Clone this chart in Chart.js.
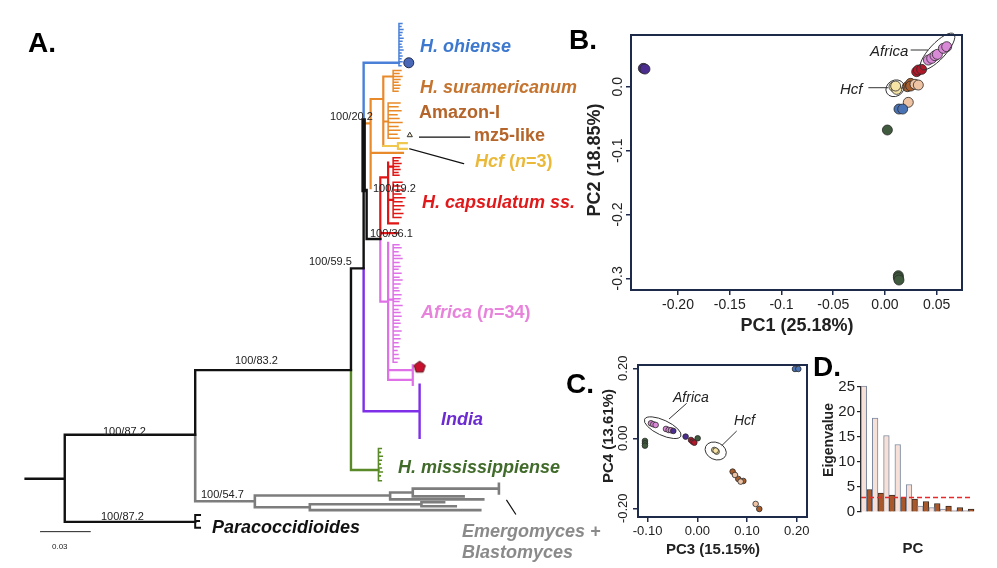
<!DOCTYPE html>
<html>
<head>
<meta charset="utf-8">
<script src="https://cdn.jsdelivr.net/npm/chart.js@4.4.1/dist/chart.umd.min.js"></script>
<style>
  body { margin: 0; background: #fff; }
  #fig { position: relative; width: 997px; height: 568px; overflow: hidden; font-family: "Liberation Sans", Arial, sans-serif; }
  #fig canvas { position: absolute; }
  .t { position: absolute; white-space: nowrap; line-height: 1; transform: translateY(-50%); font-weight: bold; }
  .c { position: absolute; white-space: nowrap; line-height: 1; transform: translate(-50%, -50%); font-weight: bold; color: #222; }
  .r { position: absolute; white-space: nowrap; line-height: 1; transform: translate(-50%, -50%) rotate(-90deg); font-weight: bold; color: #222; }
  .bs { position: absolute; white-space: nowrap; line-height: 1; transform: translateY(-50%); font-size: 11px; color: #222; }
  .i { font-style: italic; }
</style>
</head>
<body>
<div id="fig">
  <canvas id="cA" width="600" height="568" style="left:0;top:0"></canvas>
  <canvas id="cB" width="390" height="320" style="left:590px;top:25px"></canvas>
  <canvas id="cC" width="220" height="200" style="left:595px;top:355px"></canvas>
  <canvas id="cD" width="182" height="190" style="left:815px;top:372px"></canvas>

  <!-- panel letters -->
  <div class="t" style="left:28px;top:43px;font-size:28px">A.</div>
  <div class="t" style="left:569px;top:40px;font-size:28px">B.</div>
  <div class="t" style="left:566px;top:384px;font-size:28px">C.</div>
  <div class="t" style="left:813px;top:367px;font-size:28px">D.</div>

  <!-- tree labels -->
  <div class="t i" style="left:420px;top:46px;font-size:18px;color:#3d78cf">H. ohiense</div>
  <div class="t i" style="left:420px;top:87px;font-size:18px;color:#c4742f">H. suramericanum</div>
  <div class="t" style="left:419px;top:112px;font-size:18px;color:#b5652a">Amazon-I</div>
  <div class="t" style="left:474px;top:135px;font-size:18px;color:#b5652a">mz5-like</div>
  <div class="t" style="left:475px;top:161px;font-size:18px;color:#eab93a"><span class="i">Hcf</span> (<span class="i">n</span>=3)</div>
  <div class="t i" style="left:422px;top:202px;font-size:18px;color:#e0191b">H. capsulatum ss.</div>
  <div class="t" style="left:421px;top:312px;font-size:18px;color:#e883dc"><span class="i">Africa</span> (<span class="i">n</span>=34)</div>
  <div class="t i" style="left:441px;top:419px;font-size:18px;color:#6c2bd0">India</div>
  <div class="t i" style="left:398px;top:467px;font-size:18px;color:#416b2a">H. mississippiense</div>
  <div class="t i" style="left:212px;top:527px;font-size:18px;color:#111">Paracoccidioides</div>
  <div class="t i" style="left:462px;top:531px;font-size:18px;color:#8a8a8a">Emergomyces +</div>
  <div class="t i" style="left:462px;top:552px;font-size:18px;color:#8a8a8a">Blastomyces</div>

  <!-- support values -->
  <div class="bs" style="left:330px;top:116px">100/20.2</div>
  <div class="bs" style="left:373px;top:188px">100/19.2</div>
  <div class="bs" style="left:370px;top:233px">100/36.1</div>
  <div class="bs" style="left:309px;top:261px">100/59.5</div>
  <div class="bs" style="left:235px;top:360px">100/83.2</div>
  <div class="bs" style="left:103px;top:431px">100/87.2</div>
  <div class="bs" style="left:101px;top:516px">100/87.2</div>
  <div class="bs" style="left:201px;top:494px">100/54.7</div>
  <div class="bs" style="left:52px;top:547px;font-size:8px">0.03</div>

  <!-- PCA labels -->
  <div class="c" style="left:797px;top:325px;font-size:18px">PC1 (25.18%)</div>
  <div class="r" style="left:594px;top:160px;font-size:18px">PC2 (18.85%)</div>
  <div class="t i" style="left:870px;top:50px;font-size:15px;font-weight:normal;color:#222">Africa</div>
  <div class="t i" style="left:840px;top:88px;font-size:15px;font-weight:normal;color:#222">Hcf</div>

  <div class="c" style="left:713px;top:548px;font-size:15px">PC3 (15.15%)</div>
  <div class="r" style="left:607px;top:436px;font-size:15px">PC4 (13.61%)</div>
  <div class="t i" style="left:673px;top:397px;font-size:14px;font-weight:normal;color:#222">Africa</div>
  <div class="t i" style="left:734px;top:420px;font-size:14px;font-weight:normal;color:#222">Hcf</div>

  <div class="r" style="left:828px;top:440px;font-size:14px">Eigenvalue</div>
  <div class="c" style="left:913px;top:547px;font-size:15px">PC</div>
</div>

<script>
// ---------------- data ----------------
// Panel A: tree branches, x = branch length (subs/site), y = tip row
const treeBlack = [
  [0, 483, 0.0235, 483],
  [0.0235, 438, 0.0235, 527],
  [0.0235, 438, 0.1018, 438],
  [0.0235, 527, 0.1018, 527],
  [0.1018, 372, 0.1018, 438],
  [0.1018, 372, 0.1953, 372],
  [0.1953, 268, 0.1953, 372],
  [0.1953, 268, 0.2029, 268],
  [0.2029, 188, 0.2029, 268],
  [0.2029, 188, 0.2047, 188],
  [0.2047, 188, 0.2047, 238],
  [0.2047, 238, 0.2129, 238]
];
const treeBlackBold = [[0.2029, 117, 0.2029, 188]];
const treeBlue = [[0.2029, 58, 0.2029, 117], [0.2029, 58, 0.2241, 58]];
const treeOrange = [
  [0.2029, 120, 0.2071, 120],
  [0.2071, 95, 0.2071, 186],
  [0.2071, 95, 0.2147, 95],
  [0.2147, 72, 0.2147, 143],
  [0.2147, 72, 0.2206, 72],
  [0.2147, 118, 0.2176, 118],
  [0.2071, 150, 0.2265, 150]
];
const treeHcf = [
  [0.2147, 143, 0.2235, 143],
  [0.2235, 140, 0.2235, 146],
  [0.2235, 140, 0.2288, 140],
  [0.2235, 146, 0.2288, 146]
];
const treeRed = [
  [0.2129, 175, 0.2129, 238],
  [0.2129, 175, 0.2176, 175],
  [0.2176, 160, 0.2176, 222],
  [0.2176, 164, 0.2206, 164],
  [0.2176, 198, 0.2206, 198],
  [0.2176, 222, 0.2235, 222],
  [0.2129, 232, 0.2235, 232]
];
const treePink = [
  [0.2129, 238, 0.2129, 302],
  [0.2129, 302, 0.2176, 302],
  [0.2176, 242, 0.2176, 382],
  [0.2176, 300, 0.2206, 300],
  [0.2176, 372, 0.2324, 372],
  [0.2176, 382, 0.2324, 382],
  [0.2324, 367, 0.2324, 377],
  [0.2324, 378, 0.2324, 387]
];
const treePurple = [[0.2029, 268, 0.2029, 414], [0.2029, 414, 0.2365, 414], [0.2365, 387, 0.2365, 441]];
const treeGreen = [[0.1953, 372, 0.1953, 474], [0.1953, 474, 0.2118, 474]];
const treeGray = [
  [0.1018, 438, 0.1018, 506],
  [0.1018, 506, 0.1376, 506],
  [0.1376, 500, 0.1376, 512],
  [0.1376, 500, 0.2188, 500],
  [0.2188, 497, 0.2188, 504],
  [0.2188, 497, 0.2324, 497],
  [0.2324, 493, 0.2324, 501],
  [0.2324, 493, 0.2841, 493],
  [0.2841, 488, 0.2841, 498],
  [0.2324, 501, 0.2629, 501],
  [0.2188, 504, 0.2747, 504],
  [0.1376, 512, 0.1706, 512],
  [0.1706, 509, 0.1706, 515],
  [0.1706, 509, 0.2376, 509],
  [0.2376, 507, 0.2376, 511],
  [0.2376, 507, 0.2512, 507],
  [0.2376, 511, 0.2582, 511],
  [0.1706, 515, 0.2729, 515]
];
// collapsed tip groups: spine x, tip rows and the branch end of each tip
const combBlue = { x: 0.2241, rows: [18, 21, 24, 27, 30, 33, 36, 39, 42, 45, 48, 51, 54, 57, 61],
  tips: [0.2259, 0.2253, 0.2265, 0.2259, 0.2253, 0.2265, 0.2259, 0.2253, 0.2259, 0.2265, 0.2253, 0.2259, 0.2253, 0.2259, 0.2253] };
const combOrange1 = { x: 0.2206, rows: [66, 69, 72, 75, 78, 81, 84, 87],
  tips: [0.2253, 0.2241, 0.2259, 0.2247, 0.2235, 0.2247, 0.2241, 0.2235] };
const combOrange2 = { x: 0.2176, rows: [99, 103, 107, 111, 115, 119, 123, 127, 131, 135],
  tips: [0.2247, 0.2235, 0.2253, 0.2229, 0.2241, 0.2259, 0.2235, 0.2247, 0.2229, 0.2241] };
const combRed1 = { x: 0.2206, rows: [155, 158, 161, 164, 167, 170, 173],
  tips: [0.2247, 0.2235, 0.2253, 0.2241, 0.2247, 0.2235, 0.2241] };
const combRed2 = { x: 0.2206, rows: [180, 184, 188, 192, 196, 200, 204, 208, 212, 216],
  tips: [0.2259, 0.2247, 0.2270, 0.2253, 0.2276, 0.2259, 0.2270, 0.2247, 0.2264, 0.2253] };
const combPink = { x: 0.2206, rows: [244, 247, 251, 255, 258, 262, 266, 269, 273, 277, 280, 284, 288, 291, 295, 299, 302, 306, 310, 313, 317, 321, 324, 328, 332, 336, 340, 344, 348, 352, 356, 360, 364],
  tips: [0.2241, 0.2253, 0.2235, 0.2247, 0.2259, 0.2241, 0.2247, 0.2235, 0.2253, 0.2241, 0.2259, 0.2247, 0.2235, 0.2241, 0.2253, 0.2247, 0.2241, 0.2259, 0.2235, 0.2247, 0.2253, 0.2241, 0.2247, 0.2235, 0.2253, 0.2241, 0.2247, 0.2235, 0.2241, 0.2229, 0.2235, 0.2241, 0.2229] };
const combGreen = { x: 0.2118, rows: [452, 456, 460, 464, 468, 472, 476, 480, 485],
  tips: [0.2135, 0.2129, 0.2141, 0.2135, 0.2129, 0.2135, 0.2141, 0.2129, 0.2135] };
const combParaco = { x: 0.1018, rows: [520, 526, 533], tips: [0.1047, 0.1041, 0.1047] };
const leaders = [[0.2365, 134, 0.2665, 134], [0.2306, 146, 0.2629, 161], [0.2888, 505, 0.2941, 519]];
const scaleBar = [[0.0088, 537, 0.0388, 537]];
const markOhiense = [{ x: 0.2300, y: 58 }];
const markMz5 = [{ x: 0.2306, y: 132 }];
const markAfrica = [{ x: 0.2365, y: 369 }];

// Panels B and C: PCA scores per group
const groups = ['India', 'H. mississippiense', 'H. ohiense', 'Amazon-I', 'H. suramericanum', 'Hcf', 'H. capsulatum ss.', 'Africa'];
const pc1 = [
  [-0.2335, -0.2319],
  [0.0129, 0.0129, 0.0135, 0.0023],
  [0.0135, 0.0171],
  [0.0225, 0.0290, 0.0322],
  [0.0216, 0.0248, 0.0248],
  [0.0087, 0.0113, 0.0103],
  [0.0306, 0.0322, 0.0354],
  [0.0419, 0.0451, 0.0483, 0.0506, 0.0564, 0.0596]
];
const pc2 = [
  [0.0287, 0.0276],
  [-0.2958, -0.2989, -0.3026, -0.0678],
  [-0.035, -0.035],
  [-0.0245, 0.0037, 0.0026],
  [0.0, 0.0052, 0.001],
  [0.0, -0.0042, 0.001],
  [0.0235, 0.0261, 0.0271],
  [0.0417, 0.0443, 0.0485, 0.0506, 0.060, 0.0626]
];
const pc3 = [
  [-0.0483, -0.0235],
  [-0.1053, -0.1053, -0.1053, 0.0007],
  [0.1965, 0.2032],
  [0.0758, 0.0872, 0.1174],
  [0.0711, 0.0825, 0.0926, 0.1247],
  [0.0342, 0.0389, 0.0369],
  [-0.0127, -0.0094, -0.006],
  [-0.0932, -0.0885, -0.0838, -0.063, -0.0577, -0.053]
];
const pc4 = [
  [0.021, 0.0048],
  [-0.0076, -0.0143, -0.021, 0.0],
  [0.1981, 0.1981],
  [-0.1048, -0.1238, -0.1876],
  [-0.0952, -0.1162, -0.1219, -0.2019],
  [-0.0333, -0.0381, -0.0352],
  [-0.0048, -0.0095, -0.0124],
  [0.0429, 0.040, 0.0381, 0.0267, 0.0238, 0.0229]
];
const bXTicks = [-0.20, -0.15, -0.1, -0.05, 0.00, 0.05];
const bXLabels = ['-0.20', '-0.15', '-0.1', '-0.05', '0.00', '0.05'];
const bYTicks = [0.0, -0.1, -0.2, -0.3];
const bYLabels = ['0.0', '-0.1', '-0.2', '-0.3'];
const cXTicks = [-0.10, 0.00, 0.10, 0.20];
const cXLabels = ['-0.10', '0.00', '0.10', '0.20'];
const cYTicks = [0.20, 0.00, -0.20];
const cYLabels = ['0.20', '0.00', '-0.20'];

// Panel D: eigenvalues
const pcNames = ['PC1', 'PC2', 'PC3', 'PC4', 'PC5', 'PC6', 'PC7', 'PC8', 'PC9', 'PC10'];
const eigenObserved = [25.2, 18.8, 15.3, 13.5, 5.5, 1.2, 0.9, 0.6, 0.4, 0.3];
const eigenNull = [4.5, 3.8, 3.4, 2.9, 2.6, 2.1, 1.7, 1.2, 0.9, 0.6];
const eigenCutoff = 2.9;

// ---------------- styles ----------------
const FONT = "'Liberation Sans', Arial, sans-serif";
const groupFill = ['#4b2d8f', '#3f5a3d', '#4a73b5', '#eec3a3', '#a85e2c', '#f6e3a6', '#b3182a', '#d98ad6'];
const frameColor = '#1e2a4a';

// ---------------- helpers ----------------
function combSegs(c) {
  const segs = [[c.x, Math.min(...c.rows), c.x, Math.max(...c.rows)]];
  c.rows.forEach((r, i) => segs.push([c.x, r, c.tips[i], r]));
  return segs;
}
function lineSet(segs, color, width) {
  const data = [];
  segs.forEach(s => data.push({ x: s[0], y: s[1] }, { x: s[2], y: s[3] }, { x: null, y: null }));
  return { data, showLine: true, spanGaps: false, borderColor: color, borderWidth: width,
           pointRadius: 0, pointHoverRadius: 0, borderCapStyle: 'square', fill: false };
}
function frame() {
  return { id: 'frame', afterDraw(chart) {
    const { left, top, right, bottom } = chart.chartArea, ctx = chart.ctx;
    ctx.save(); ctx.strokeStyle = frameColor; ctx.lineWidth = 2;
    ctx.strokeRect(left, top, right - left, bottom - top); ctx.restore();
  } };
}
function rotYLabels(values, labels, size, gap) {
  return { id: 'rotY', afterDraw(chart) {
    const ctx = chart.ctx, sy = chart.scales.y, x0 = chart.chartArea.left - gap;
    ctx.save(); ctx.fillStyle = '#222'; ctx.font = size + 'px ' + FONT;
    ctx.textAlign = 'center'; ctx.textBaseline = 'middle';
    values.forEach((v, i) => {
      ctx.save(); ctx.translate(x0, sy.getPixelForValue(v)); ctx.rotate(-Math.PI / 2);
      ctx.fillText(labels[i], 0, 0); ctx.restore();
    });
    ctx.restore();
  } };
}
function shapes(list) {
  return { id: 'shapes', afterDatasetsDraw(chart) {
    const ctx = chart.ctx, sx = chart.scales.x, sy = chart.scales.y;
    ctx.save(); ctx.strokeStyle = '#333'; ctx.lineWidth = 1;
    list.forEach(s => {
      ctx.beginPath();
      if (s.type === 'ellipse') {
        ctx.ellipse(sx.getPixelForValue(s.x), sy.getPixelForValue(s.y), s.rx, s.ry, s.angle * Math.PI / 180, 0, 2 * Math.PI);
      } else {
        ctx.moveTo(sx.getPixelForValue(s.x1), sy.getPixelForValue(s.y1));
        ctx.lineTo(sx.getPixelForValue(s.x2), sy.getPixelForValue(s.y2));
      }
      ctx.stroke();
    });
    ctx.restore();
  } };
}
function pcaSets(xs, ys, radius) {
  return groups.map((g, i) => ({
    label: g,
    data: xs[i].map((x, j) => ({ x, y: ys[i][j] })),
    backgroundColor: groupFill[i], borderColor: '#2a2a2a', borderWidth: 0.8,
    pointRadius: radius, pointHoverRadius: radius
  }));
}
function pcaScale(min, max, ticks, labels, size, fitKey, fitVal, showLabels) {
  return {
    type: 'linear', min, max,
    afterBuildTicks: ax => { ax.ticks = ticks.map(v => ({ value: v })); },
    afterFit: ax => { ax[fitKey] = fitVal; },
    ticks: { display: showLabels, autoSkip: false, maxRotation: 0, padding: 2, color: '#222',
             font: { size, family: FONT }, callback: (v, i) => labels[i] },
    grid: { drawOnChartArea: false, drawTicks: true, tickLength: 5, color: frameColor, lineWidth: 1.5 },
    border: { display: false }
  };
}

// pentagon marker
const pent = document.createElement('canvas');
pent.width = pent.height = 14;
(function () {
  const p = pent.getContext('2d');
  p.beginPath();
  for (let i = 0; i < 5; i++) {
    const a = -Math.PI / 2 + i * 2 * Math.PI / 5;
    p.lineTo(7 + 6 * Math.cos(a), 7 + 6 * Math.sin(a));
  }
  p.closePath(); p.fillStyle = '#c8102e'; p.fill();
  p.strokeStyle = '#5a0a14'; p.lineWidth = 1; p.stroke();
})();

// ---------------- panel A: tree ----------------
const treeSets = [
  lineSet(treeGray, '#7d7d7d', 2.6),
  lineSet(treeGreen, '#5a8a28', 2.4),
  lineSet(combSegs(combGreen), '#5a8a28', 1.6),
  lineSet(treePurple, '#7f2fe8', 2.4),
  lineSet(treePink, '#e070e8', 2.2),
  lineSet(combSegs(combPink), '#e070e8', 1.5),
  lineSet(treeRed, '#e01515', 2.2),
  lineSet(combSegs(combRed1), '#e01515', 1.5),
  lineSet(combSegs(combRed2), '#e01515', 1.5),
  lineSet(treeOrange, '#e88a2a', 2.2),
  lineSet(combSegs(combOrange1), '#e88a2a', 1.5),
  lineSet(combSegs(combOrange2), '#e88a2a', 1.5),
  lineSet(treeHcf, '#f0c850', 2.2),
  lineSet(treeBlue, '#4a80d8', 2.4),
  lineSet(combSegs(combBlue), '#4a80d8', 1.5),
  lineSet(treeBlack, '#111', 2.4),
  lineSet(treeBlackBold, '#111', 4.5),
  lineSet(combSegs(combParaco), '#111', 2),
  lineSet(leaders, '#111', 1.2),
  lineSet(scaleBar, '#222', 1),
  { data: markOhiense, pointRadius: 5, backgroundColor: '#4a68b8', borderColor: '#1e2a50', borderWidth: 1 },
  { data: markMz5, pointStyle: 'triangle', pointRadius: 3, backgroundColor: '#f8f0d0', borderColor: '#333', borderWidth: 1 },
  { data: markAfrica, pointStyle: pent }
].reverse();

new Chart(document.getElementById('cA'), {
  type: 'scatter',
  data: { datasets: treeSets },
  options: {
    responsive: false, animation: false, events: [],
    layout: { padding: 0 },
    plugins: { legend: { display: false }, tooltip: { enabled: false } },
    scales: {
      x: { type: 'linear', display: false, min: -20 / 1700, max: 580 / 1700 },
      y: { type: 'linear', display: false, min: 0, max: 568, reverse: true }
    }
  }
});

// ---------------- panel B: PC1 vs PC2 ----------------
new Chart(document.getElementById('cB'), {
  type: 'scatter',
  data: { datasets: pcaSets(pc1, pc2, 5) },
  options: {
    responsive: false, animation: false, events: [],
    layout: { padding: { left: 0, top: 10, right: 18, bottom: 0 } },
    plugins: { legend: { display: false }, tooltip: { enabled: false } },
    scales: {
      x: pcaScale(-0.2454, 0.0744, bXTicks, bXLabels, 14, 'height', 55, true),
      y: pcaScale(-0.3182, 0.0809, bYTicks, bYLabels, 14, 'width', 41, false)
    }
  },
  plugins: [frame(), rotYLabels(bYTicks, bYLabels, 14, 13), shapes([
    { type: 'ellipse', x: 0.0507, y: 0.0551, rx: 24, ry: 8, angle: -47 },
    { type: 'ellipse', x: 0.0097, y: -0.0025, rx: 9.5, ry: 8, angle: -30 },
    { type: 'line', x1: 0.0248, y1: 0.0574, x2: 0.0418, y2: 0.0574 },
    { type: 'line', x1: -0.0161, y1: -0.0016, x2: 0.0032, y2: -0.0016 }
  ])]
});

// ---------------- panel C: PC3 vs PC4 ----------------
new Chart(document.getElementById('cC'), {
  type: 'scatter',
  data: { datasets: pcaSets(pc3, pc4, 2.8) },
  options: {
    responsive: false, animation: false, events: [],
    layout: { padding: { left: 0, top: 10, right: 8, bottom: 0 } },
    plugins: { legend: { display: false }, tooltip: { enabled: false } },
    scales: {
      x: pcaScale(-0.1193, 0.2207, cXTicks, cXLabels, 13, 'height', 38, true),
      y: pcaScale(-0.2249, 0.2094, cYTicks, cYLabels, 13, 'width', 43, false)
    }
  },
  plugins: [frame(), rotYLabels(cYTicks, cYLabels, 13, 15), shapes([
    { type: 'ellipse', x: -0.0696, y: 0.0303, rx: 20, ry: 7.5, angle: 25 },
    { type: 'ellipse', x: 0.037, y: -0.0363, rx: 11, ry: 8.5, angle: 25 },
    { type: 'line', x1: -0.0213, y1: 0.1, x2: -0.0569, y2: 0.055 },
    { type: 'line', x1: 0.0793, y1: 0.0209, x2: 0.0491, y2: -0.0211 }
  ])]
});

// ---------------- panel D: eigenvalues ----------------
const cutoffLine = {
  id: 'cutoff', afterDatasetsDraw(chart) {
    const ctx = chart.ctx, y = chart.scales.y.getPixelForValue(eigenCutoff);
    ctx.save(); ctx.strokeStyle = '#e52b2b'; ctx.lineWidth = 1.3; ctx.setLineDash([5, 3]);
    ctx.beginPath(); ctx.moveTo(chart.chartArea.left, y); ctx.lineTo(chart.chartArea.right - 2, y); ctx.stroke();
    ctx.restore();
  }
};
new Chart(document.getElementById('cD'), {
  type: 'bar',
  data: {
    labels: pcNames,
    datasets: [
      { data: eigenObserved, backgroundColor: '#f6e0d8', borderColor: '#7c8aa0', borderWidth: 1,
        barPercentage: 1, categoryPercentage: 1, clip: false },
      { data: eigenNull, backgroundColor: '#a8582a', borderColor: '#3a2a20', borderWidth: 1,
        barPercentage: 1, categoryPercentage: 1, clip: false }
    ]
  },
  options: {
    responsive: false, animation: false, events: [],
    layout: { padding: { left: 0, top: 15, right: 23, bottom: 50 } },
    plugins: { legend: { display: false }, tooltip: { enabled: false } },
    scales: {
      x: { display: false },
      y: {
        min: 0, max: 25,
        afterFit: ax => { ax.width = 46; },
        ticks: { stepSize: 5, color: '#222', padding: 2, font: { size: 15, family: FONT } },
        grid: { drawOnChartArea: false, drawTicks: true, tickLength: 4, color: '#222', lineWidth: 1.2 },
        border: { display: true, color: '#222', width: 1.5 }
      }
    }
  },
  plugins: [cutoffLine]
});
</script>
</body>
</html>
